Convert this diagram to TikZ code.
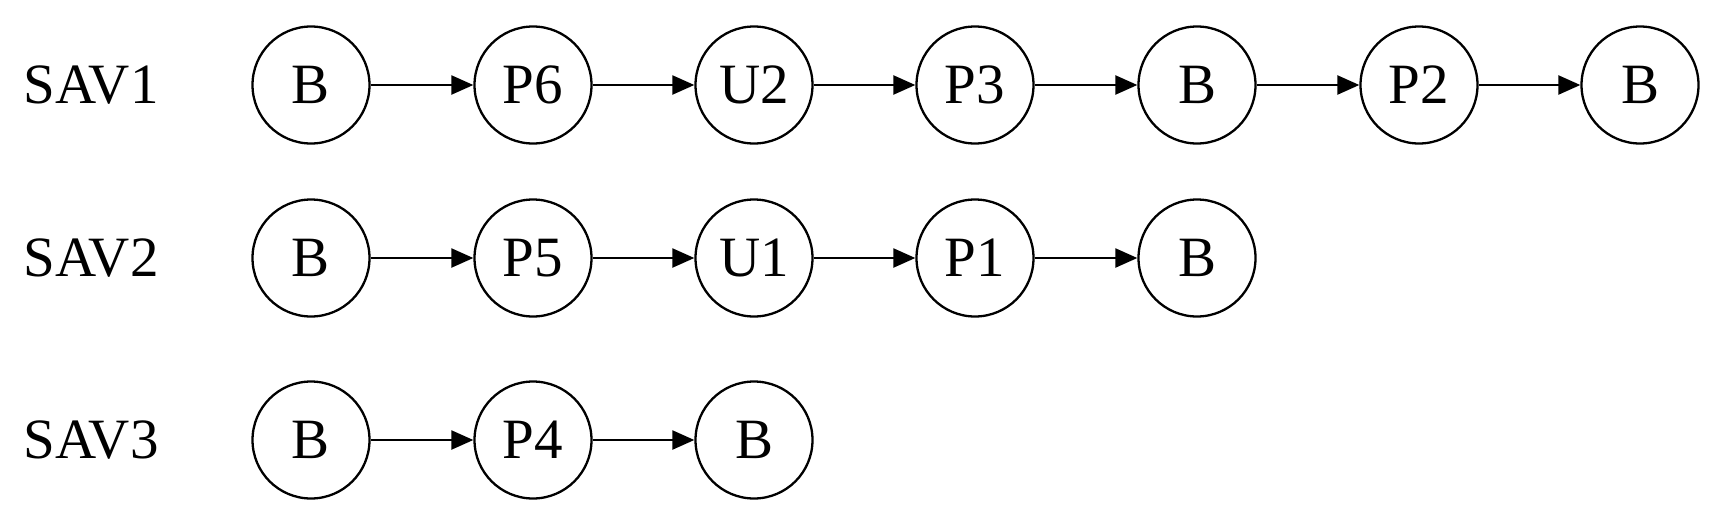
\documentclass[tikz,border=0pt]{standalone}
\usepackage{fontspec}
\setmainfont{Liberation Serif}
\usetikzlibrary{arrows.meta}
\begin{document}
\begin{tikzpicture}[x=1pt,y=-1pt,
  state/.style={circle,draw,line width=2.3pt,minimum size=117pt,inner sep=0pt,font=\fontsize{57}{64}\selectfont},
  lbl/.style={font=\fontsize{57}{64}\selectfont,inner sep=0pt},
  arr/.style={line width=2.3pt,-{Triangle[length=22pt,width=19pt]}}]
\useasboundingbox (0,0) rectangle (1728,525);
\def\cA{311}\def\cB{533}\def\cC{754}\def\cD{975}\def\cE{1197}\def\cF{1419}\def\cG{1640}
% row 1
\node[lbl] (l1) at (91,85) {SAV1};
\node[state] (a1) at (\cA,85) {B};
\node[state] (a2) at (\cB,85) {P6};
\node[state] (a3) at (\cC,85) {U2};
\node[state] (a4) at (\cD,85) {P3};
\node[state] (a5) at (\cE,85) {B};
\node[state] (a6) at (\cF,85) {P2};
\node[state] (a7) at (\cG,85) {B};
\foreach \i/\j in {a1/a2,a2/a3,a3/a4,a4/a5,a5/a6,a6/a7} \draw[arr] (\i) -- (\j);
% row 2
\node[lbl] (l2) at (91,258) {SAV2};
\node[state] (b1) at (\cA,258) {B};
\node[state] (b2) at (\cB,258) {P5};
\node[state] (b3) at (\cC,258) {U1};
\node[state] (b4) at (\cD,258) {P1};
\node[state] (b5) at (\cE,258) {B};
\foreach \i/\j in {b1/b2,b2/b3,b3/b4,b4/b5} \draw[arr] (\i) -- (\j);
% row 3
\node[lbl] (l3) at (91,440) {SAV3};
\node[state] (c1) at (\cA,440) {B};
\node[state] (c2) at (\cB,440) {P4};
\node[state] (c3) at (\cC,440) {B};
\foreach \i/\j in {c1/c2,c2/c3} \draw[arr] (\i) -- (\j);
\end{tikzpicture}
\end{document}
